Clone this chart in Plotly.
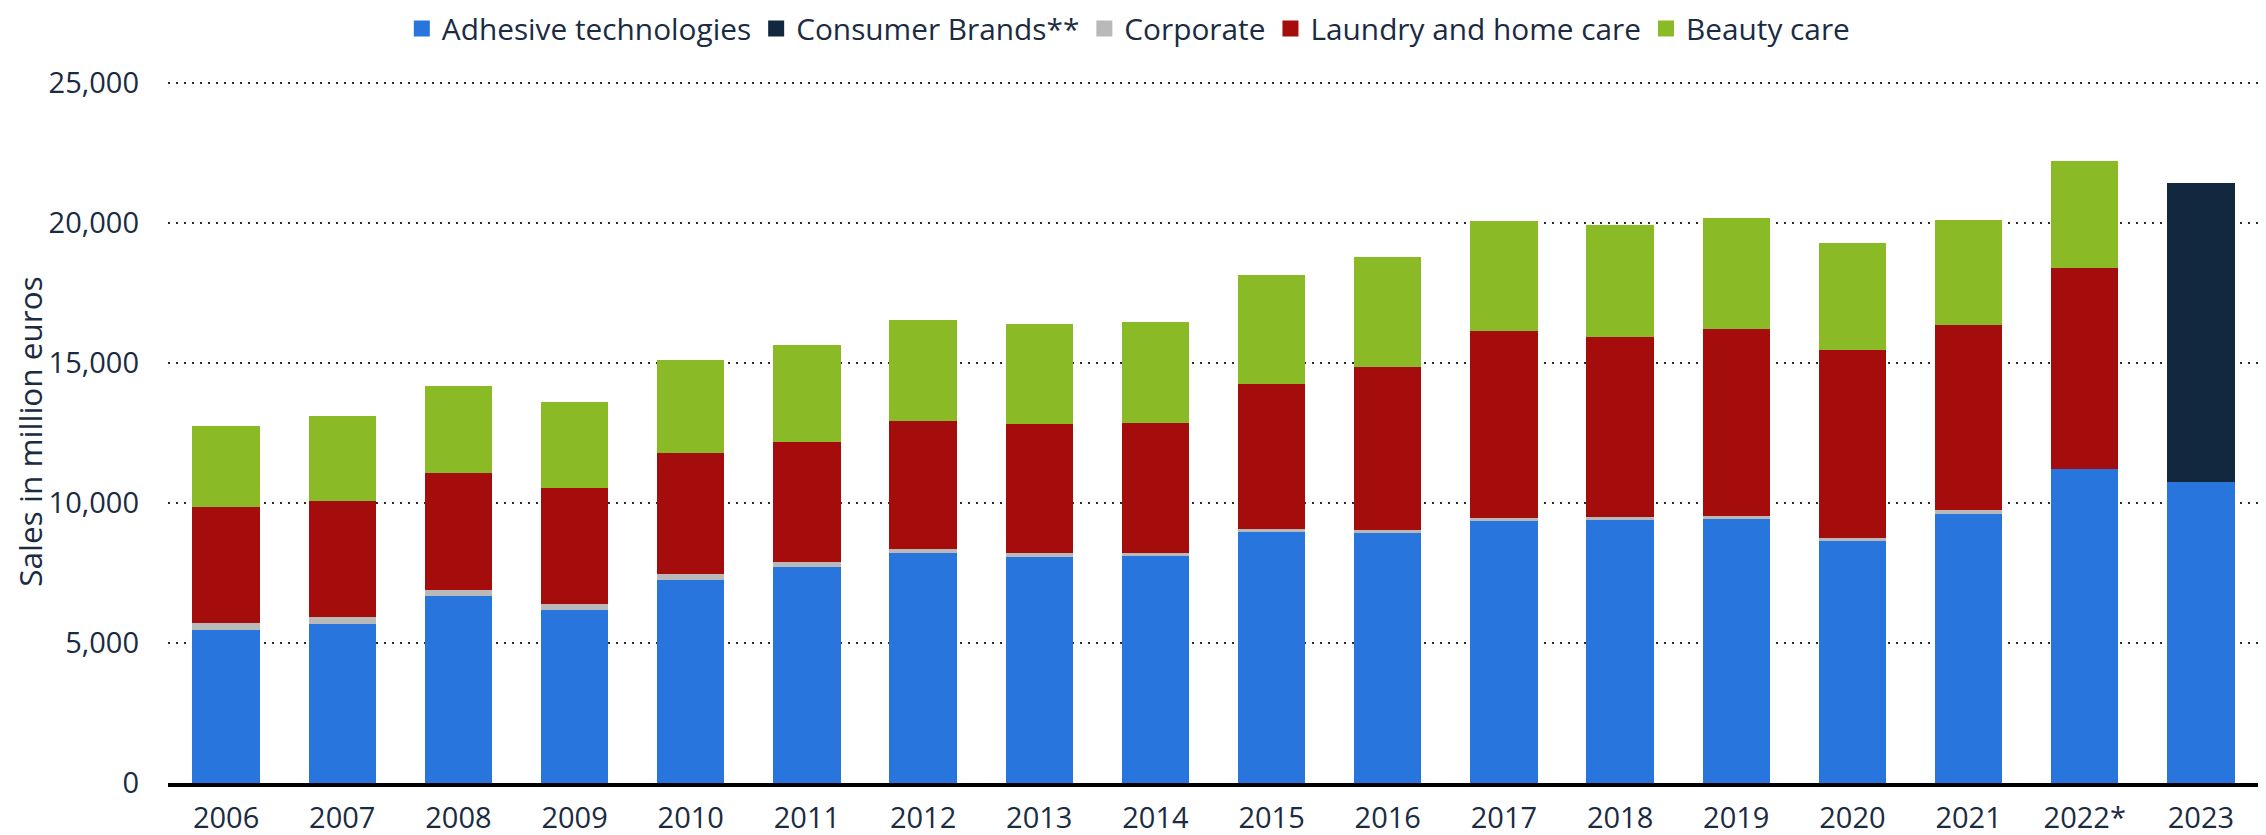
import plotly.graph_objects as go

years = ["2006", "2007", "2008", "2009", "2010", "2011", "2012", "2013", "2014",
         "2015", "2016", "2017", "2018", "2019", "2020", "2021", "2022*", "2023"]

adhesive = [5478, 5668, 6668, 6193, 7264, 7714, 8214, 8084, 8095,
            8963, 8927, 9357, 9382, 9441, 8656, 9607, 11203, 10763]
consumer_brands = [None] * 17 + [10644]
corporate = [236, 250, 239, 200, 200, 168, 156, 143, 119,
             107, 121, 110, 107, 107, 107, 143, 0, None]
laundry = [4131, 4153, 4178, 4142, 4335, 4296, 4571, 4593, 4642,
           5167, 5807, 6664, 6440, 6666, 6701, 6607, 7178, None]
beauty = [2919, 3036, 3083, 3072, 3321, 3460, 3607, 3572, 3607,
          3894, 3908, 3944, 4003, 3943, 3811, 3750, 3833, None]

series = [
    ("Adhesive technologies", adhesive, "#2876dd"),
    ("Consumer Brands**", consumer_brands, "#12283f"),
    ("Corporate", corporate, "#b9b9b9"),
    ("Laundry and home care", laundry, "#a50c0c"),
    ("Beauty care", beauty, "#8aba25"),
]

FONT = "Open Sans"
TXT = "#1a2b42"

fig = go.Figure()
for name, vals, col in series:
    fig.add_trace(go.Bar(
        x=years, y=vals, name=name, marker=dict(color=col, line=dict(width=0)),
        showlegend=False,
    ))
# legend entries with larger square swatches
for name, vals, col in series:
    fig.add_trace(go.Scatter(
        x=[None], y=[None], mode="markers", name=name,
        marker=dict(symbol="square", size=16, color=col),
        showlegend=True,
    ))

# page body has an 8px default margin, so the figure is sized/offset to compensate
fig.update_layout(
    width=2258, height=827,
    barmode="stack", bargap=0.42,
    plot_bgcolor="white", paper_bgcolor="white",
    margin=dict(l=160, r=7, t=72, b=52, autoexpand=False),
    font=dict(family=FONT, size=29, color=TXT),
    legend=dict(
        orientation="h", xref="paper", yref="paper",
        x=0.4595, xanchor="center", y=1.11, yanchor="top",
        font=dict(family=FONT, size=29.8, color=TXT),
        itemclick=False, traceorder="normal",
        tracegroupgap=0, itemwidth=30,
    ),
    showlegend=True,
)
fig.update_xaxes(
    type="category", showgrid=False, showline=True, linecolor="black", linewidth=4,
    ticks="", tickfont=dict(family=FONT, size=29, color=TXT),
    ticklabelstandoff=6, fixedrange=True,
)
fig.update_yaxes(
    range=[0, 25100], tickvals=[0, 5000, 10000, 15000, 20000, 25000],
    ticktext=["0", "5,000", "10,000", "15,000", "20,000", "25,000"],
    showgrid=True, gridcolor="#2a2a2a", gridwidth=2, griddash="2px,6px",
    zeroline=False, showline=False, ticks="",
    tickfont=dict(family=FONT, size=29, color=TXT), ticklabelstandoff=28,
    title=dict(text="Sales in million euros", font=dict(family=FONT, size=31.5, color=TXT), standoff=0),
    fixedrange=True,
)

fig.write_html("out.html")
